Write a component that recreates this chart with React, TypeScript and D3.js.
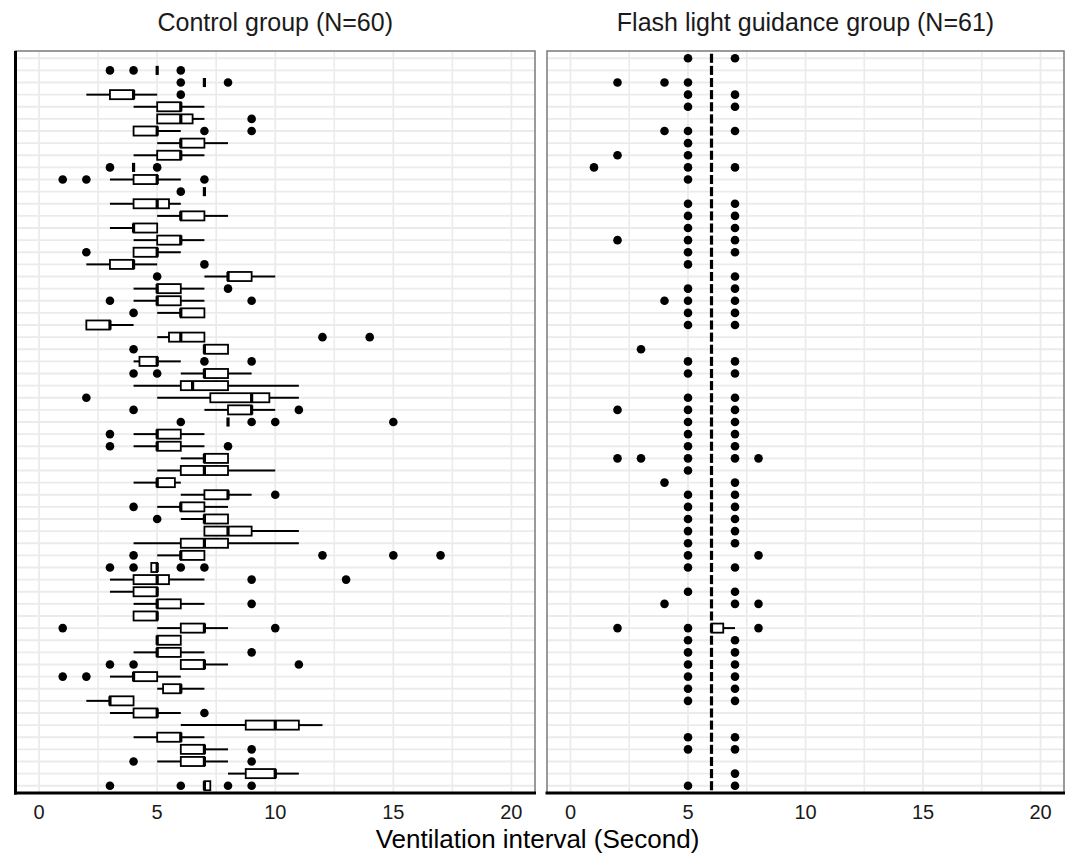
import React from 'react';
import * as d3 from 'd3';

const rowCount = 61;
const xTicks = [0, 5, 10, 15, 20];
const minorTicks = [2.5, 7.5, 12.5, 17.5];
const panelTitles = ['Control group (N=60)', 'Flash light guidance group (N=61)'];
const axisTitle = 'Ventilation interval (Second)';

// Box statistics per subject row (top to bottom): [lowWhisker, q1, median, q3, highWhisker]
const controlStats: (number[] | null)[] = [
  null,
  [5, 5, 5, 5, 5],
  [7, 7, 7, 7, 7],
  [2, 3, 4, 4, 5],
  [4, 5, 6, 6, 7],
  [5, 5, 6, 6.5, 7],
  [4, 4, 5, 5, 6],
  [5, 6, 6, 7, 8],
  [4, 5, 6, 6, 7],
  [4, 4, 4, 4, 4],
  [3, 4, 5, 5, 6],
  [7, 7, 7, 7, 7],
  [3, 4, 5, 5.5, 6],
  [5, 6, 6, 7, 8],
  [3, 4, 4, 5, 5],
  [4, 5, 6, 6, 7],
  [4, 4, 5, 5, 6],
  [2, 3, 4, 4, 5],
  [7, 8, 8, 9, 10],
  [4, 5, 5, 6, 7],
  [4, 5, 5, 6, 7],
  [5, 6, 6, 7, 7],
  [2, 2, 3, 3, 4],
  [5, 5.5, 6, 7, 7],
  [7, 7, 7, 8, 8],
  [4, 4.25, 5, 5, 6],
  [6, 7, 7, 8, 9],
  [4, 6, 6.5, 8, 11],
  [5, 7.25, 9, 9.75, 11],
  [7, 8, 9, 9, 10],
  [8, 8, 8, 8, 8],
  [4, 5, 5, 6, 7],
  [4, 5, 5, 6, 7],
  [6, 7, 7, 8, 8],
  [5, 6, 7, 8, 10],
  [4, 5, 5, 5.75, 6],
  [6, 7, 8, 8, 9],
  [5, 6, 6, 7, 8],
  [6, 7, 7, 8, 8],
  [7, 7, 8, 9, 11],
  [4, 6, 7, 8, 11],
  [5, 6, 6, 7, 7],
  [4.75, 4.75, 5, 5, 5],
  [3, 4, 5, 5.5, 7],
  [3, 4, 5, 5, 5],
  [4, 5, 5, 6, 7],
  [4, 4, 5, 5, 5],
  [5, 6, 7, 7, 8],
  [5, 5, 5, 6, 6],
  [4, 5, 5, 6, 7],
  [6, 6, 7, 7, 8],
  [3, 4, 4, 5, 6],
  [5, 5.25, 6, 6, 7],
  [2, 3, 3, 4, 4],
  [3, 4, 5, 5, 6],
  [6, 8.75, 10, 11, 12],
  [4, 5, 6, 6, 7],
  [6, 6, 7, 7, 8],
  [5, 6, 7, 7, 8],
  [8, 8.75, 10, 10, 11],
  [7, 7, 7, 7.25, 7.25],
];

const controlOutliers: number[][] = [
  [], [3, 4, 6], [6, 8], [6], [], [9], [7, 9], [], [], [3, 5],
  [1, 2, 7], [6], [], [], [], [], [2], [7], [5], [8],
  [3, 9], [4], [], [12, 14], [4], [7, 9], [4, 5], [], [2], [4, 11],
  [6, 9, 10, 15], [3], [3, 8], [], [], [], [10], [4], [5], [],
  [], [4, 12, 15, 17], [3, 4, 6, 7], [9, 13], [], [9], [], [1, 10], [], [9],
  [3, 4, 11], [1, 2], [], [], [7], [], [], [9], [4, 9], [],
  [3, 6, 8, 9],
];

const flashStats: (number[] | null)[] = [
  [6, 6, 6, 6, 6], [6, 6, 6, 6, 6], [6, 6, 6, 6, 6], [6, 6, 6, 6, 6], [6, 6, 6, 6, 6],
  [6, 6, 6, 6, 6], [6, 6, 6, 6, 6], [6, 6, 6, 6, 6], [6, 6, 6, 6, 6], [6, 6, 6, 6, 6],
  [6, 6, 6, 6, 6], [6, 6, 6, 6, 6], [6, 6, 6, 6, 6], [6, 6, 6, 6, 6], [6, 6, 6, 6, 6],
  [6, 6, 6, 6, 6], [6, 6, 6, 6, 6], [6, 6, 6, 6, 6], [6, 6, 6, 6, 6], [6, 6, 6, 6, 6],
  [6, 6, 6, 6, 6], [6, 6, 6, 6, 6], [6, 6, 6, 6, 6], [6, 6, 6, 6, 6], [6, 6, 6, 6, 6],
  [6, 6, 6, 6, 6], [6, 6, 6, 6, 6], [6, 6, 6, 6, 6], [6, 6, 6, 6, 6], [6, 6, 6, 6, 6],
  [6, 6, 6, 6, 6], [6, 6, 6, 6, 6], [6, 6, 6, 6, 6], [6, 6, 6, 6, 6], [6, 6, 6, 6, 6],
  [6, 6, 6, 6, 6], [6, 6, 6, 6, 6], [6, 6, 6, 6, 6], [6, 6, 6, 6, 6], [6, 6, 6, 6, 6],
  [6, 6, 6, 6, 6], [6, 6, 6, 6, 6], [6, 6, 6, 6, 6], [6, 6, 6, 6, 6], [6, 6, 6, 6, 6],
  [6, 6, 6, 6, 6], [6, 6, 6, 6, 6], [6, 6, 6, 6.5, 7], [6, 6, 6, 6, 6], [6, 6, 6, 6, 6],
  [6, 6, 6, 6, 6], [6, 6, 6, 6, 6], [6, 6, 6, 6, 6], [6, 6, 6, 6, 6], [6, 6, 6, 6, 6],
  [6, 6, 6, 6, 6], [6, 6, 6, 6, 6], [6, 6, 6, 6, 6], [6, 6, 6, 6, 6], [6, 6, 6, 6, 6],
  [6, 6, 6, 6, 6],
];

const flashOutliers: number[][] = [
  [5, 7], [], [2, 4, 5], [5, 7], [5, 7], [], [4, 5, 7], [5], [2, 5], [1, 5, 7],
  [5], [], [5, 7], [5, 7], [5, 7], [2, 5, 7], [5, 7], [5], [7], [5, 7],
  [4, 5, 7], [5, 7], [5, 7], [], [3], [5, 7], [5, 7], [], [5, 7], [2, 5, 7],
  [5, 7], [5, 7], [5, 7], [2, 3, 5, 7, 8], [5], [4, 7], [5, 7], [5, 7], [5, 7], [5, 7],
  [5, 7], [5, 8], [5, 7], [], [5, 7], [4, 7, 8], [], [2, 5, 8], [5, 7], [5, 7],
  [5, 7], [5, 7], [5, 7], [5, 7], [], [], [5, 7], [5, 7], [], [7],
  [5, 7],
];

const W = 1070;
const H = 853;
const TOP = 51;
const BOTTOM = 793;
const FONT = "'Liberation Sans', Arial, sans-serif";
const GRID = '#ebebeb';

type PanelProps = {
  stats: (number[] | null)[];
  outliers: number[][];
  x0: number;
  x1: number;
  title: string;
  leftAxis: boolean;
};

function Panel({ stats, outliers, x0, x1, title, leftAxis }: PanelProps) {
  const x = d3.scaleLinear().domain([-1, 21]).range([x0, x1]);
  const y = d3
    .scalePoint<number>()
    .domain(d3.range(rowCount))
    .range([TOP, BOTTOM])
    .padding(0.6);
  const bh = y.step() * 0.75;
  const cx = (x0 + x1) / 2;
  return (
    <g>
      <rect x={x0} y={TOP} width={x1 - x0} height={BOTTOM - TOP} fill="#fff" />
      {minorTicks.map((t) => (
        <line key={'m' + t} x1={x(t)} x2={x(t)} y1={TOP} y2={BOTTOM} stroke={GRID} strokeWidth={1.6} />
      ))}
      {xTicks.map((t) => (
        <line key={'M' + t} x1={x(t)} x2={x(t)} y1={TOP} y2={BOTTOM} stroke={GRID} strokeWidth={1.8} />
      ))}
      {y.domain().map((r) => (
        <line key={'h' + r} x1={x0} x2={x1} y1={y(r)} y2={y(r)} stroke={GRID} strokeWidth={1.8} />
      ))}
      {stats.map((s, i) => {
        const cy = y(i) as number;
        const outs = outliers[i] || [];
        return (
          <g key={'b' + i}>
            {outs.map((o, j) => (
              <circle key={j} cx={x(o)} cy={cy} r={4.3} fill="#000" />
            ))}
            {s && (
              <g>
                <line x1={x(s[0])} x2={x(s[1])} y1={cy} y2={cy} stroke="#000" strokeWidth={2} />
                <line x1={x(s[3])} x2={x(s[4])} y1={cy} y2={cy} stroke="#000" strokeWidth={2} />
                <rect
                  x={x(s[1])}
                  y={cy - bh / 2}
                  width={Math.max(0, x(s[3]) - x(s[1]))}
                  height={bh}
                  fill="#fff"
                  stroke="#000"
                  strokeWidth={1.8}
                />
                <line x1={x(s[2])} x2={x(s[2])} y1={cy - bh / 2} y2={cy + bh / 2} stroke="#000" strokeWidth={3.2} />
              </g>
            )}
          </g>
        );
      })}
      {/* panel border */}
      <rect x={x0} y={TOP} width={x1 - x0} height={BOTTOM - TOP} fill="none" stroke="#7a7a7a" strokeWidth={1.5} />
      {/* axis lines */}
      <line x1={x0 - 1.5} x2={x1 + 1} y1={BOTTOM} y2={BOTTOM} stroke="#000" strokeWidth={3} />
      {leftAxis && <line x1={x0} x2={x0} y1={TOP} y2={BOTTOM + 1.5} stroke="#000" strokeWidth={3} />}
      {xTicks.map((t) => (
        <text key={'t' + t} x={x(t)} y={819} textAnchor="middle" fontSize={20} fontFamily={FONT} fill="#1a1a1a">
          {t}
        </text>
      ))}
      <text x={cx} y={31} textAnchor="middle" fontSize={25} fontFamily={FONT} fill="#1a1a1a">
        {title}
      </text>
    </g>
  );
}

export default function App() {
  return (
    <svg
      width={W}
      height={H}
      viewBox={`0 0 ${W} ${H}`}
      style={{ position: 'absolute', left: 0, top: 0, background: '#fff' }}
    >
      <rect x={0} y={0} width={W} height={H} fill="#fff" />
      <Panel stats={controlStats} outliers={controlOutliers} x0={15.5} x1={535} title={panelTitles[0]} leftAxis={true} />
      <Panel stats={flashStats} outliers={flashOutliers} x0={547} x1={1064} title={panelTitles[1]} leftAxis={false} />
      <text x={537.5} y={848} textAnchor="middle" fontSize={26} fontFamily={FONT} fill="#000">
        {axisTitle}
      </text>
    </svg>
  );
}
